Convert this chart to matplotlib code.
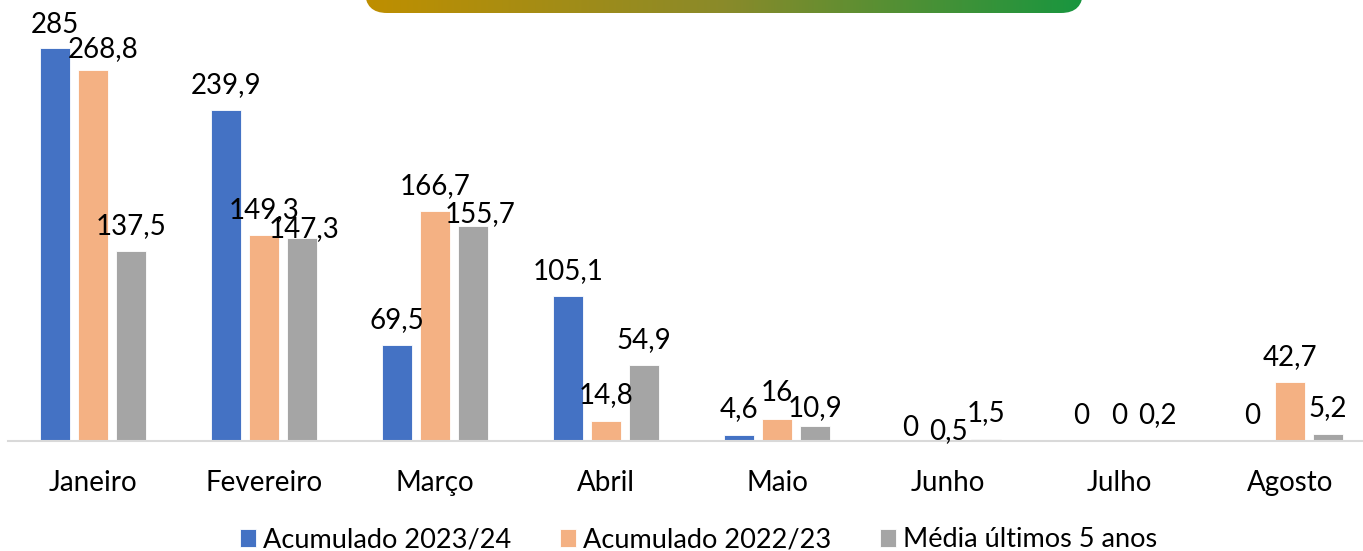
import numpy as np
import matplotlib.pyplot as plt
from matplotlib.patches import FancyBboxPatch
from matplotlib.colors import LinearSegmentedColormap

# données
meses = ["Janeiro", "Fevereiro", "Março", "Abril", "Maio", "Junho", "Julho", "Agosto"]
acum_2324 = [285, 239.9, 69.5, 105.1, 4.6, 0, 0, 0]
acum_2223 = [268.8, 149.3, 166.7, 14.8, 16, 0.5, 0, 42.7]
media_5anos = [137.5, 147.3, 155.7, 54.9, 10.9, 1.5, 0.2, 5.2]
series_nomes = ["Acumulado 2023/24", "Acumulado 2022/23", "Média últimos 5 anos"]

cores = ["#4472C4", "#F4B183", "#A5A5A5"]

# petits décalages des étiquettes (px) : (serie, mois) -> (dx, dy)
ajustes = {
    (0, 0): (0, -3),
    (1, 0): (10, -4),
    (2, 1): (2, -17),
    (2, 2): (7, -13),
    (2, 4): (0, -8),
    (0, 5): (0, -13),
    (1, 5): (0, -16),
}

plt.rcParams['font.family'] = ['Lato', 'DejaVu Sans']

W, H = 1363, 551
fig = plt.figure(figsize=(W / 100, H / 100), dpi=100)

# axe principal
ax = fig.add_axes([7.5 / W, (H - 441) / H, 1368 / W, 441 / H])
ax.patch.set_alpha(0)

x = np.arange(len(meses))
larg = 0.175
desl = 0.222
todas = [acum_2324, acum_2223, media_5anos]

def fmt(v):
    if float(v).is_integer():
        return str(int(v))
    return ("%.1f" % v).replace(".", ",")

for s, vals in enumerate(todas):
    pos = x + (s - 1) * desl
    ax.bar(pos, vals, width=larg, color=cores[s], label=series_nomes[s],
           edgecolor="white", linewidth=0.6, zorder=2)
    for i, v in enumerate(vals):
        dx, dy = ajustes.get((s, i), (0, 0))
        ax.annotate(fmt(v), (pos[i], v), xytext=(dx * 0.72, 9 + dy * 0.72),
                    textcoords="offset points", ha="center", va="bottom",
                    fontsize=20, color="black", zorder=3)

ax.set_xlim(-0.5, 7.5)
ax.set_ylim(0, 441 / 1.379)
ax.set_xticks(x)
ax.set_xticklabels(meses, fontsize=20)
ax.tick_params(axis="x", length=0, pad=21)
ax.set_yticks([])
for lado in ["top", "left", "right"]:
    ax.spines[lado].set_visible(False)
ax.spines["bottom"].set_color("#D9D9D9")
ax.spines["bottom"].set_linewidth(1.5)

fig.legend(loc="center", bbox_to_anchor=(0.5125, 0.02), ncol=3, frameon=False,
           fontsize=19.5, handlelength=0.6, handleheight=0.6, handletextpad=0.25,
           columnspacing=1.8)

# bandeau en dégradé en haut
axb = fig.add_axes([0, 0, 1, 1], zorder=5)
axb.set_xlim(0, W)
axb.set_ylim(H, 0)
axb.axis("off")
grad = np.linspace(0, 1, 256).reshape(1, -1)
cmap = LinearSegmentedColormap.from_list("banda", ["#BF8F00", "#8A8A2A", "#18963F"])
img = axb.imshow(grad, cmap=cmap, extent=[365, 1083, 13, -40], aspect="auto")
caixa = FancyBboxPatch((365, -40), 718, 53, boxstyle="round,pad=0,rounding_size=22",
                       facecolor="none", edgecolor="none", transform=axb.transData)
axb.add_patch(caixa)
img.set_clip_path(caixa)

fig.savefig("out.png", dpi=100)
